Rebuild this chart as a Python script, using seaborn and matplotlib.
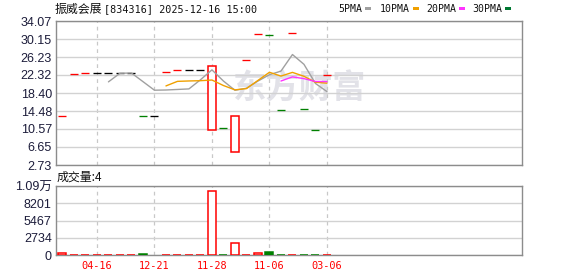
import numpy as np
import pandas as pd
import matplotlib
matplotlib.use("Agg")
import matplotlib.pyplot as plt
from matplotlib.patches import Rectangle
import seaborn as sns

# ---------------- data ----------------
open_ = [13.40, 22.47, 22.75, 22.75, 22.75, 22.75, 22.75, 13.40, 13.40, 22.97, 23.34, 23.34,
         23.34, 10.28, 10.78, 5.49, 25.51, 31.17, 31.10, 14.70, 31.39, 14.85, 10.35, 22.25]
close = [13.40, 22.47, 22.75, 22.75, 22.75, 22.75, 22.75, 13.40, 13.40, 22.97, 23.34, 23.34,
         23.34, 24.20, 10.78, 13.33, 25.51, 31.17, 31.10, 14.70, 31.39, 14.85, 10.35, 22.25]
volume = [370, 20, 20, 20, 20, 20, 20, 200, 0, 20, 20, 20,
          20, 10080, 30, 1970, 30, 370, 420, 30, 30, 30, 30, 4]
tick_candles = [3, 8, 13, 18, 23]
tick_labels = ["04-16", "12-21", "11-28", "11-06", "03-06"]
price_ticks = ["2.73", "6.65", "10.57", "14.48", "18.40", "22.32", "26.23", "30.15", "34.07"]
vol_ticks = [0, 2734, 5467, 8201, 10935]
vol_tick_labels = ["0", "2734", "5467", "8201", "1.09万"]
ma_windows = [5, 10, 20, 30]
ma_names = ["5PMA", "10PMA", "20PMA", "30PMA"]
title_name = "振威会展"
title_rest = "[834316] 2025-12-16 15:00"
vol_title = "成交量:4"

# ---------------- styling ----------------
sns.set_theme(style="white")
plt.rcParams["font.family"] = ["Liberation Sans", "Noto Sans CJK SC", "DejaVu Sans"]

RED = "#ff0000"
GREEN = "#008000"
BLACK = "#000000"
ma_colors = ["#a0a0a0", "#f0a000", "#ff33ff", "#007832"]
GRID = "#d2d2d2"
SPINE = "#8c8c8c"
LABEL = "#1c1c3a"

W, H = 578, 276
fig = plt.figure(figsize=(W / 100, H / 100), dpi=100)
fig.patch.set_facecolor("white")

def fx(px):
    return px / W

def fy(py):
    return 1 - py / H

ax = fig.add_axes([fx(56), fy(165), fx(522) - fx(56), fy(21) - fy(165)])
axv = fig.add_axes([fx(56), fy(255), fx(522) - fx(56), fy(186) - fy(255)])

df = pd.DataFrame({"idx": np.arange(len(close)), "open": open_, "close": close, "volume": volume})
prev = df["close"].shift(1)

def candle_color(r, p):
    if r["close"] > r["open"]:
        return RED
    if r["close"] < r["open"]:
        return GREEN
    if pd.isna(p) or r["close"] > p:
        return RED
    if r["close"] < p:
        return GREEN
    return BLACK

df["color"] = [candle_color(r, p) for (_, r), p in zip(df.iterrows(), prev)]

BW = 0.7
XL = (-0.56, 39.96)

# watermark
ax.text(0.52, 0.53, "东方财富", transform=ax.transAxes, ha="center", va="center",
        fontsize=24, fontweight="bold", color="#e2e2e8", family=["Noto Sans CJK SC"], zorder=0)

# candles
for _, r in df.iterrows():
    i, o, c, col = r["idx"], r["open"], r["close"], r["color"]
    if o == c:
        ax.hlines(c, i - BW / 2, i + BW / 2, color=col, lw=0.95, zorder=3)
    else:
        lo, hi = min(o, c), max(o, c)
        fc = "white" if col == RED else col
        ax.bar(i, hi - lo, bottom=lo, width=BW, facecolor=fc, edgecolor=col, lw=1.1, zorder=3)

# moving averages
for w, colr in zip(ma_windows, ma_colors):
    ma = df["close"].rolling(w).mean()
    if ma.notna().any():
        sns.lineplot(x=df["idx"], y=ma, ax=ax, color=colr, lw=1.0, zorder=4)

ptick_vals = [float(t) for t in price_ticks]
ax.set_ylim(ptick_vals[0], ptick_vals[-1])
ax.set_yticks(ptick_vals)
ax.set_yticklabels(price_ticks)
ax.set_xlim(*XL)
ax.set_xticks(tick_candles)
ax.set_xticklabels([])

# volume
for _, r in df.iterrows():
    col = GREEN if r["color"] == GREEN else RED
    fc = GREEN if col == GREEN else "white"
    if r["volume"] > 0:
        axv.bar(r["idx"], r["volume"], width=BW, facecolor=fc, edgecolor=col, lw=1.1, zorder=3)
axv.set_ylim(0, vol_ticks[-1])
axv.set_yticks(vol_ticks)
axv.set_yticklabels(vol_tick_labels)
axv.set_xlim(*XL)
axv.set_xticks(tick_candles)
axv.set_xticklabels(tick_labels, color=RED, family=["DejaVu Sans Mono"], fontsize=7.4)

for a in (ax, axv):
    a.set_facecolor("white")
    a.set_xlabel("")
    a.set_ylabel("")
    a.yaxis.grid(True, color=GRID, lw=1.0, ls="-")
    a.xaxis.grid(True, color="#c8c8c8", lw=0.9, ls=(0, (3, 3)))
    a.set_axisbelow(True)
    for s in a.spines.values():
        s.set_visible(True)
        s.set_color(SPINE)
        s.set_linewidth(1.0)
    a.tick_params(axis="y", length=0, pad=3, labelsize=9, labelcolor=LABEL)
    a.tick_params(axis="x", length=0, pad=4)

# header texts
fig.text(fx(55), fy(9), title_name, family=["Noto Sans CJK SC"], fontsize=8.6,
         va="center", ha="left", color="#111111")
fig.text(fx(104), fy(9), title_rest, family=["DejaVu Sans Mono"], fontsize=7.3,
         va="center", ha="left", color="#111111")

leg_x = [338, 380, 426, 472]
mark_x = [365, 413, 459, 505]
for name, colr, tx, mx in zip(ma_names, ma_colors, leg_x, mark_x):
    fig.text(fx(tx), fy(9), name, family=["DejaVu Sans Mono"], fontsize=7.1,
             va="center", ha="left", color="#111111")
    fig.add_artist(Rectangle((fx(mx), fy(10)), fx(6), 3 / H, transform=fig.transFigure,
                             facecolor=colr, edgecolor="none"))

fig.text(fx(57), fy(177), vol_title, family=["Noto Sans CJK SC", "DejaVu Sans"], fontsize=8.6,
         va="center", ha="left", color="#111111")

fig.savefig("out.png", dpi=100, facecolor="white")
